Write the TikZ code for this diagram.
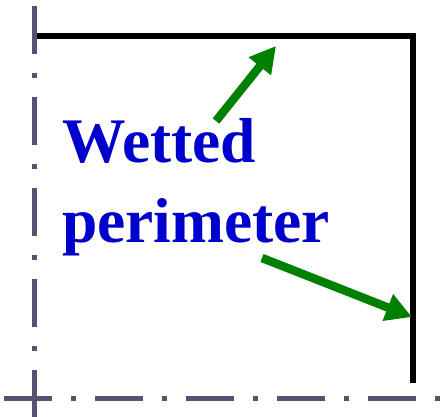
\documentclass[tikz,border=0pt]{standalone}
\usepackage{fontspec}
\setmainfont{Liberation Serif}
\usetikzlibrary{arrows.meta}
\definecolor{axisgray}{RGB}{84,84,114}
\definecolor{wetgreen}{RGB}{0,128,0}
\definecolor{labelblue}{RGB}{0,0,204}
\tikzset{
  centerline/.style={draw=axisgray,line width=5.5pt,dash pattern=on 48pt off 19pt on 5pt off 19pt},
  wall/.style={draw=black,line width=5.5pt},
  greenarrow/.style={draw=wetgreen,line width=8.5pt,-{Triangle[length=26pt,width=27pt]}},
  lbl/.style={text=labelblue,font=\fontsize{63.5}{75}\selectfont\bfseries,inner sep=0pt,anchor=base west}
}
\begin{document}
\begin{tikzpicture}[x=1pt,y=-1pt]
\useasboundingbox (0,0) rectangle (442,417);
% centre lines
\coordinate (vtop) at (34.5,6);
\coordinate (vbot) at (34.5,417);
\coordinate (hleft) at (4,398.5);
\coordinate (hright) at (442,398.5);
\draw[centerline] (vtop) -- (vbot);
\draw[centerline] (hleft) -- (hright);
% wall
\coordinate (w1) at (37,36);
\coordinate (w2) at (413,36);
\coordinate (w3) at (413,383);
\draw[wall] (w1) -- (w2) -- (w3);
% label
\node[lbl] (wet) at (62,163) {Wetted};
\node[lbl] (per) at (62,242) {perimeter};
% arrows
\coordinate (a1s) at (216,121);
\coordinate (a1e) at (276,46);
\coordinate (a2s) at (262,258);
\coordinate (a2e) at (412,317);
\draw[greenarrow] (a1s) -- (a1e);
\draw[greenarrow] (a2s) -- (a2e);
\end{tikzpicture}
\end{document}
